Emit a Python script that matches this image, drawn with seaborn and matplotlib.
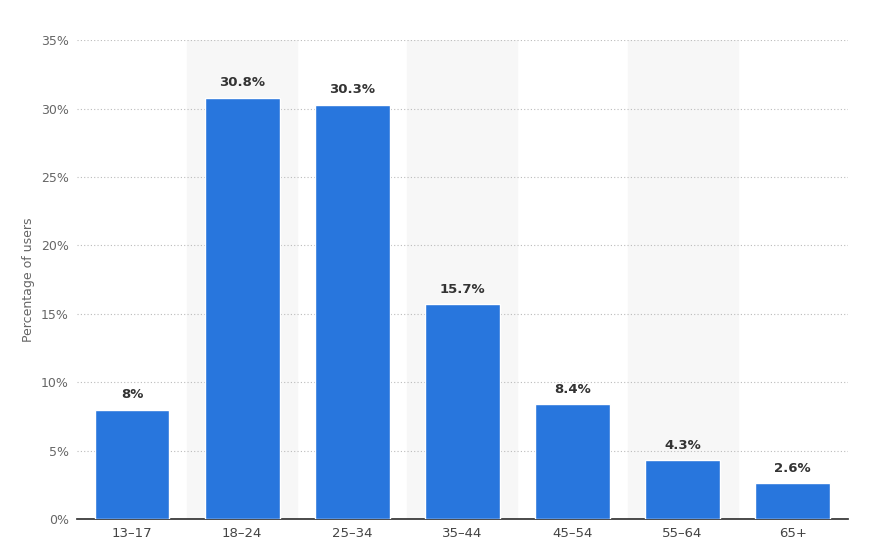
import matplotlib
matplotlib.use("Agg")
import matplotlib.pyplot as plt
import seaborn as sns
import pandas as pd

categories = ["13-17", "18-24", "25-34", "35-44", "45-54", "55-64", "65+"]
values = [8, 30.8, 30.3, 15.7, 8.4, 4.3, 2.6]
labels = ["8%", "30.8%", "30.3%", "15.7%", "8.4%", "4.3%", "2.6%"]
yticks = [0, 5, 10, 15, 20, 25, 30, 35]

sns.set_theme(style="white")
plt.rcParams['font.family'] = ['DejaVu Sans']

fig = plt.figure(figsize=(8.69, 5.51), dpi=100)
ax = fig.add_axes([0.0886, 0.058, 0.887, 0.869])
df = pd.DataFrame({"cat": categories, "val": values})

for i in range(len(categories)):
    if i % 2 == 1:
        ax.axvspan(i - 0.5, i + 0.5, color="#f7f7f7", zorder=0)

sns.barplot(data=df, x="cat", y="val", color="#2876dd", saturation=1, width=0.68, ax=ax, zorder=3)

for i, (v, l) in enumerate(zip(values, labels)):
    ax.text(i, v + 0.6, l, ha="center", va="bottom", fontsize=9.5, fontweight="bold", color="#333333", zorder=4)

ax.set_ylim(0, 35)
ax.set_xlim(-0.5, len(categories) - 0.5)
ax.set_yticks(yticks)
ax.set_yticklabels([f"{t}%" for t in yticks], fontsize=9, color="#666666")
ax.set_xticks(range(len(categories)))
ax.set_xticklabels([c.replace("-", "–") for c in categories], fontsize=9.5, color="#444444")
ax.yaxis.grid(True, linestyle=(0, (1, 2)), color="#bbbbbb", linewidth=0.8, zorder=1)
ax.set_axisbelow(True)
ax.set_xlabel("")
ax.set_ylabel("Percentage of users", fontsize=9, color="#666666")
for s in ["top", "right", "left"]:
    ax.spines[s].set_visible(False)
ax.spines["bottom"].set_color("#333333")
ax.tick_params(axis="both", length=0, pad=6)
fig.savefig("out.png", dpi=100)
